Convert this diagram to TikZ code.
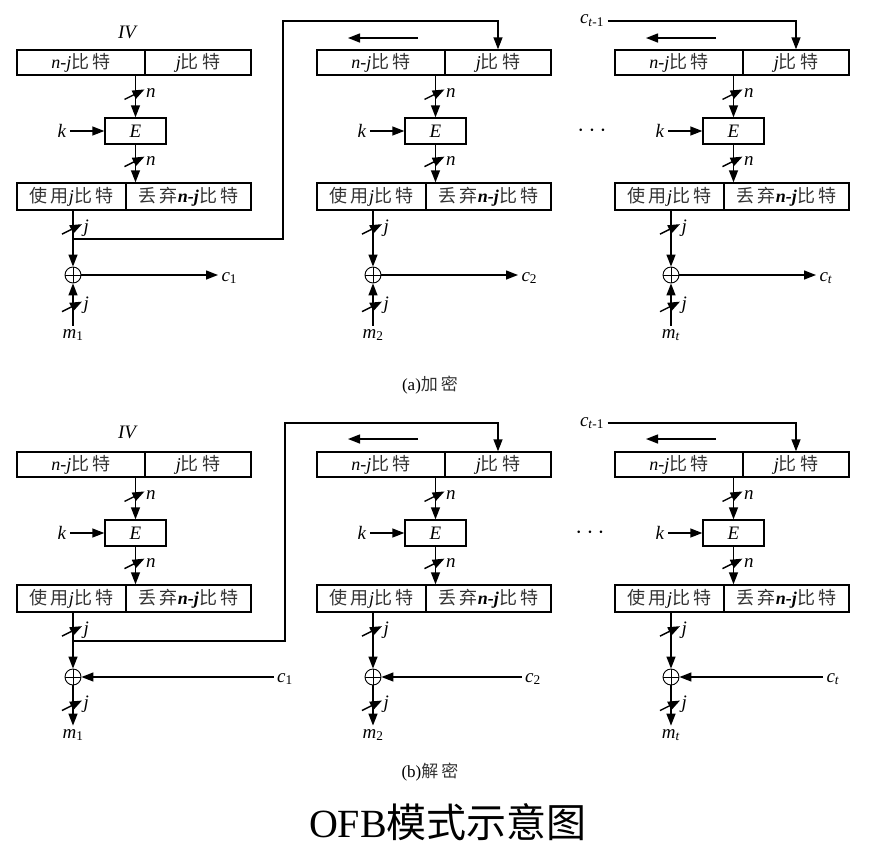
\documentclass[tikz,border=0pt]{standalone}
\usepackage{fontspec}
\setmainfont{Liberation Serif}
\newfontfamily\cjk[LetterSpace=18]{Noto Sans CJK SC}
\newfontfamily\cjktitle{Noto Sans CJK SC}
\usepackage{tikz}
\usetikzlibrary{arrows.meta, positioning, calc}

\begin{document}
\begin{tikzpicture}[
        x=1pt, y=-1pt,
        every node/.style={font=\fontsize{19}{21}\selectfont},
        reg/.style={rectangle, draw, line width=1.4pt, minimum height=25pt, inner sep=0pt, font=\fontsize{18}{20}\selectfont},
        ebox/.style={rectangle, draw, line width=1.4pt, minimum width=61pt, minimum height=26pt, inner sep=0pt},
        xor/.style={circle, draw, line width=0.9pt, minimum size=16pt, inner sep=0pt,
            path picture={\draw[line width=0.9pt] (path picture bounding box.north) -- (path picture bounding box.south)
                (path picture bounding box.west) -- (path picture bounding box.east);}},
        arr/.style={-{Triangle[length=12pt,width=9pt]}, line width=1.4pt},
        lbl/.style={anchor=west, xshift=10pt, yshift=1pt, inner sep=0pt},
        slash/.pic={\draw[line width=1.4pt] (-11,5) -- (9,-5);}
    ]
        \useasboundingbox (0,0) rectangle (894,849);

        % common part of every column
        \foreach \p/\dy in {a/0, b/402} {
            \foreach \c/\dx in {1/0, 2/300, 3/598} {
                \begin{scope}[shift={(\dx,\dy)}, name prefix=\p\c-]
                    \node[reg, minimum width=128pt] (nj) at (81,62.5) {\textit{n}-\textit{j}{\cjk\color{black!80}比特}};
                    \node[reg, minimum width=106pt] (jb) at (198,62.5) {\textit{j}{\cjk\color{black!80}比特}};
                    \node[ebox] (E) at (135.5,131) {\textit{E}};
                    \node (k) at (62,131) {\textit{k}};
                    \node[reg, minimum width=109pt, minimum height=27pt] (use) at (71.5,196.5) {{\cjk\color{black!80}使用}\textit{j}{\cjk\color{black!80}比特}};
                    \node[reg, minimum width=125pt, minimum height=27pt] (drop) at (188.5,196.5) {{\cjk\color{black!80}丢弃}\textbf{\textit{n-j}}{\cjk\color{black!80}比特}};
                    \node[xor] (xor) at (73,275) {};
                    \coordinate (br) at (73,239);

                    \draw[arr] (E.north |- nj.south) -- pic[pos=.45]{slash} node[pos=.45, lbl] {\textit{n}} (E.north);
                    \draw[arr] (k) -- (E);
                    \draw[arr] (E.south) -- pic[pos=.45]{slash} node[pos=.45, lbl] {\textit{n}} (E.south |- drop.north);
                    \draw[arr] (xor.north |- use.south) -- pic[pos=.33]{slash} node[pos=.33, lbl] {\textit{j}} (xor);
                \end{scope}
            }
        }

        % left shift of the register
        \foreach \p/\dy in {a/0, b/401} {
            \foreach \c/\dx in {2/300, 3/598} {
                \coordinate (\p\c-sa) at (\dx+118,\dy+38);
                \coordinate (\p\c-sb) at (\dx+48,\dy+38);
                \draw[arr] (\p\c-sa) -- (\p\c-sb);
            }
        }

        % (a) encryption
        \node (a1-iv) at (128,32) {\textit{IV}};
        \foreach \c/\dx/\i in {1/0/1, 2/300/2, 3/598/\textit{t}} {
            \node (a\c-m) at (\dx+73,335) {\textit{m}\textsubscript{\i}};
            \node[anchor=west] (a\c-c) at (\dx+218,278) {\textit{c}\textsubscript{\i}};
            \draw[arr] (a\c-m) -- pic[pos=.45]{slash} node[pos=.45, lbl] {\textit{j}} (a\c-xor);
            \draw[arr] (a\c-xor) -- (a\c-xor -| a\c-c.west);
        }
        \coordinate (a1-up) at (283,21);
        \draw[arr] (a1-br) -| (a1-up) -| (a2-jb.north);
        \node (a-prev) at (592,21) {\textit{c}\textsubscript{\textit{t}-1}};
        \draw[arr] (a-prev) -| (a3-jb.north);
        \node (a-dots) at (592,131) {\fontsize{24}{26}\selectfont\bfseries$\cdots$};
        \node (a-cap) at (430,385) {\fontsize{17}{19}\selectfont (a){\cjk\color{black!80}加密}};

        % (b) decryption
        \node (b1-iv) at (128,432) {\textit{IV}};
        \foreach \c/\dx/\i/\cx in {1/0/1/285, 2/300/2/533, 3/598/\textit{t}/833} {
            \node (b\c-m) at (\dx+73,735) {\textit{m}\textsubscript{\i}};
            \node (b\c-c) at (\cx,679) {\textit{c}\textsubscript{\i}};
            \draw[arr] (b\c-c.west |- b\c-xor) -- (b\c-xor);
            \draw[arr] (b\c-xor) -- pic[pos=.5]{slash} node[pos=.5, lbl] {\textit{j}} (b\c-m);
        }
        \coordinate (b1-up) at (285,423);
        \draw[arr] (b1-br) -| (b1-up) -| (b2-jb.north);
        \node (b-prev) at (592,423) {\textit{c}\textsubscript{\textit{t}-1}};
        \draw[arr] (b-prev) -| (b3-jb.north);
        \node (b-dots) at (590,533) {\fontsize{24}{26}\selectfont\bfseries$\cdots$};
        \node (b-cap) at (430,772) {\fontsize{17}{19}\selectfont (b){\cjk\color{black!80}解密}};

        \node (title) at (448,822) {\fontsize{40}{44}\selectfont OFB{\cjktitle 模式示意图}};
    \end{tikzpicture}
\end{document}
